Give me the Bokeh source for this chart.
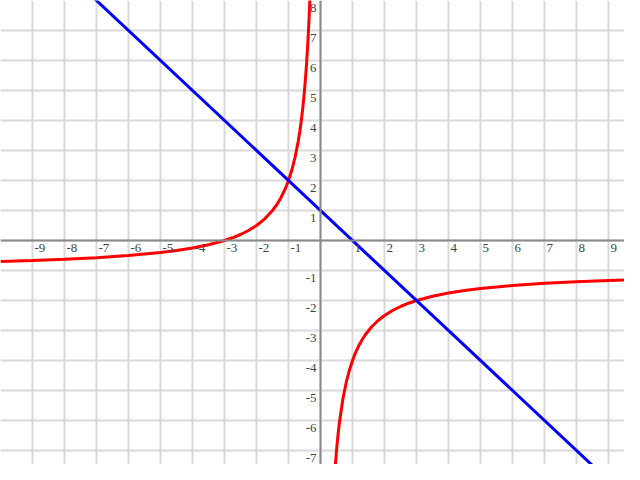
from bokeh.plotting import figure
from bokeh.models import Range1d, Grid, SingleIntervalTicker, Span, ColumnDataSource, LabelSet
from bokeh.embed import file_html
from bokeh.resources import INLINE

# tick labels
x_tick_values = [-9, -8, -7, -6, -5, -4, -3, -2, -1, 1, 2, 3, 4, 5, 6, 7, 8, 9]
x_tick_labels = ["-9", "-8", "-7", "-6", "-5", "-4", "-3", "-2", "-1",
                 "1", "2", "3", "4", "5", "6", "7", "8", "9"]
y_tick_values = [-7, -6, -5, -4, -3, -2, -1, 1, 2, 3, 4, 5, 6, 7, 8]
y_tick_labels = ["-7", "-6", "-5", "-4", "-3", "-2", "-1",
                 "1", "2", "3", "4", "5", "6", "7", "8"]

# blue straight line
line_x = [-8.0, 10.0]
line_y = [9.0, -9.0]

# red curve, left branch
curve_left_x = [-10.0, -9.0, -8.0, -7.0, -6.0, -5.0, -4.5, -4.0, -3.5, -3.0, -2.75, -2.5,
                -2.25, -2.0, -1.75, -1.5, -1.35, -1.25, -1.1, -1.0, -0.9, -0.8, -0.7,
                -0.65, -0.6, -0.55, -0.5, -0.45, -0.4, -0.36, -0.33, -0.3]
curve_left_y = [-0.70, -0.667, -0.625, -0.571, -0.50, -0.40, -0.333, -0.25, -0.143, 0.0,
                0.091, 0.20, 0.333, 0.50, 0.714, 1.0, 1.222, 1.40, 1.727, 2.0, 2.333,
                2.75, 3.286, 3.615, 4.0, 4.455, 5.0, 5.667, 6.5, 7.333, 8.09, 9.0]

# red curve, right branch
curve_right_x = [0.3, 0.35, 0.4, 0.45, 0.5, 0.55, 0.6, 0.7, 0.8, 0.9, 1.0, 1.1, 1.2, 1.3,
                 1.4, 1.6, 1.8, 2.0, 2.25, 2.5, 2.75, 3.0, 3.5, 4.0, 4.5, 5.0, 6.0, 7.0,
                 8.0, 9.0, 10.0]
curve_right_y = [-11.0, -9.571, -8.5, -7.667, -7.0, -6.455, -6.0, -5.286, -4.75, -4.333,
                 -4.0, -3.727, -3.5, -3.308, -3.143, -2.875, -2.667, -2.5, -2.333, -2.2,
                 -2.091, -2.0, -1.857, -1.75, -1.667, -1.6, -1.5, -1.429, -1.375, -1.333,
                 -1.30]

W, H = 624, 464
p = figure(width=W, height=H,
           x_range=Range1d(-10, -10 + W / 32.0), y_range=Range1d(8 - H / 30.0, 8),
           x_axis_type=None, y_axis_type=None,
           toolbar_location=None, output_backend="svg",
           min_border=0, outline_line_color=None,
           background_fill_color="white", border_fill_color="white")

grid_color = "#d9d9d9"
p.add_layout(Grid(dimension=0, ticker=SingleIntervalTicker(interval=1),
                  grid_line_color=grid_color, grid_line_width=2))
p.add_layout(Grid(dimension=1, ticker=SingleIntervalTicker(interval=1),
                  grid_line_color=grid_color, grid_line_width=2))

p.add_layout(Span(location=0, dimension="height", line_color="#8a8a8a", line_width=2))
p.add_layout(Span(location=0, dimension="width", line_color="#8a8a8a", line_width=2))

p.line(curve_left_x, curve_left_y, line_color="#ff0000", line_width=3)
p.line(curve_right_x, curve_right_y, line_color="#ff0000", line_width=3)
p.line(line_x, line_y, line_color="#0000ff", line_width=3)

xsrc = ColumnDataSource(dict(x=x_tick_values, y=[0] * len(x_tick_values), t=x_tick_labels))
ysrc = ColumnDataSource(dict(x=[0] * len(y_tick_values), y=y_tick_values, t=y_tick_labels))

font = "Liberation Sans"
p.add_layout(LabelSet(x="x", y="y", text="t", source=xsrc,
                      x_offset=2, y_offset=-3,
                      text_align="left", text_baseline="top",
                      text_font=font, text_font_size="13px",
                      text_color="#444444"))
p.add_layout(LabelSet(x="x", y="y", text="t", source=ysrc,
                      x_offset=-4, y_offset=-3,
                      text_align="right", text_baseline="top",
                      text_font=font, text_font_size="13px",
                      text_color="#444444"))

open("out.html", "w").write(file_html(p, INLINE))
